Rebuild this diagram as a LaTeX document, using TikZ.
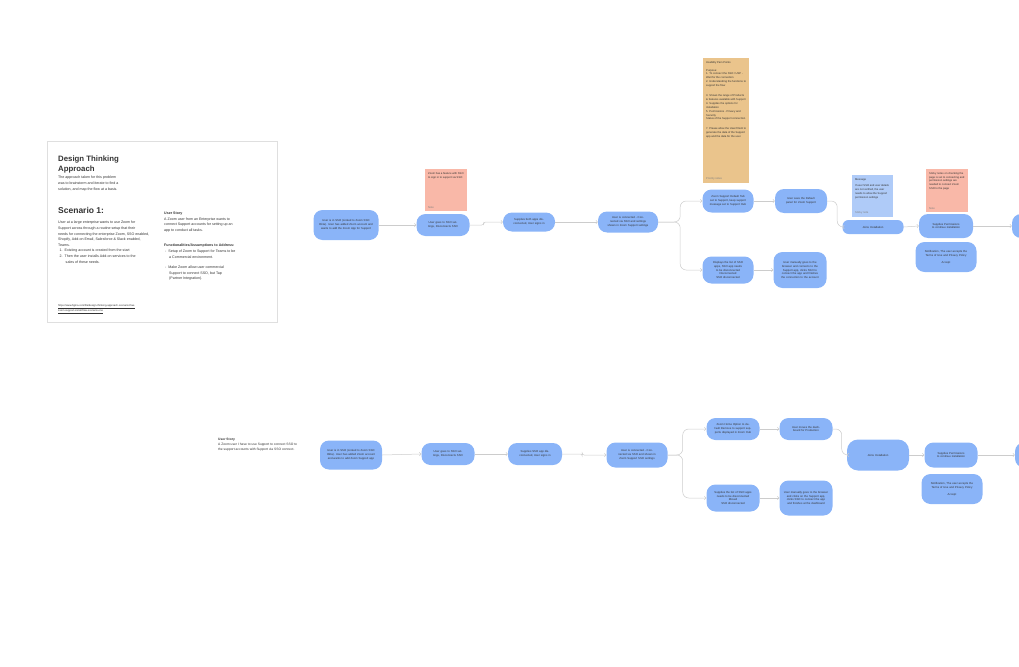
\documentclass[tikz,border=0pt]{standalone}
\usepackage{fontspec}
\setmainfont{Liberation Sans}
\usepackage{xcolor}
\usetikzlibrary{positioning,arrows.meta}
\definecolor{flowblue}{HTML}{8AB4F8}
\definecolor{salmon}{HTML}{F9B8A8}
\definecolor{sand}{HTML}{EAC48C}
\definecolor{skyblue}{HTML}{AFCBF8}
\definecolor{linegray}{HTML}{CCCCCC}
\definecolor{inkgray}{HTML}{333333}
\newcommand{\flowfont}{\fontsize{2.8}{3.9}\selectfont}
\newcommand{\notefont}{\fontsize{2.7}{3.9}\selectfont}
\newcommand{\cardfont}{\fontsize{3.6}{5.6}\selectfont}

\begin{document}
\begin{tikzpicture}[
    x=1pt, y=-1pt,
    flowbox/.style={rounded corners=9pt, fill=flowblue, inner xsep=4pt, inner ysep=2pt, align=center, font=\flowfont, text=inkgray},
    sticky/.style={fill=#1, anchor=north west, inner sep=3pt, font=\notefont, text=inkgray},
    arrow/.style={-{Straight Barb[length=1.6pt,width=3.6pt]}, draw=linegray, line width=0.5pt},
    cardtext/.style={anchor=north west, inner sep=0pt, align=left, font=\cardfont, text=inkgray}
]
    \useasboundingbox (0,0) rectangle (1019,666);
    \clip (0,0) rectangle (1019,666);

    \node[draw=gray!25, line width=0.5pt, fill=white, anchor=north west, minimum width=230pt, minimum height=181pt] (card) at (47,141) {};
    \node[cardtext, font=\fontsize{7.8}{10}\selectfont\bfseries] (title) at (58,156) {Design Thinking\\Approach};
    \node[cardtext] (approach) at (58,176) {The approach taken for this problem\\was to brainstorm and iterate to find a\\solution, and map the flow at a basis.};
    \node[cardtext, font=\fontsize{8.5}{10}\selectfont\bfseries] (scenario) at (58,207) {Scenario 1:};
    \node[cardtext] (scenariotext) at (58,221) {User at a large enterprise wants to use Zoom for\\Support across through a routine setup that their\\needs for connecting the enterprise Zoom, SSO enabled,\\Shopify, Add-on Email, Salesforce \& Slack enabled,\\Teams.\\
        \hspace*{1.5pt}1.\hspace{2pt}Existing account is created from the start\\
        \hspace*{1.5pt}2.\hspace{2pt}Then the user installs Add-on services to the\\
        \hspace*{7.5pt}sales of these needs.};
    \node[cardtext] (story) at (164,212) {\textbf{User Story}\\A Zoom user from an Enterprise wants to\\connect Support accounts for setting up an\\app to conduct all tasks.};
    \node[cardtext] (assume) at (164,244) {\textbf{Functionalities/Assumptions to Address:}\\
        \hspace*{1pt}-\hspace{2pt}Setup of Zoom to Support for Teams to be\\
        \hspace*{5pt}a Commercial environment.\\[5pt]
        \hspace*{1pt}-\hspace{2pt}Make Zoom allow user commercial\\
        \hspace*{5pt}Support to connect SSO, but Tap\\
        \hspace*{5pt}(Partner Integration).};
    \node[cardtext, font=\fontsize{2.6}{4}\selectfont] (figlink) at (58,304) {\underline{https://www.figma.com/file/design-thinking-approach-scenario-flow-}\\\underline{zoom-support-install-flow-scenario-one}};

    \node[flowbox, text width=57pt, minimum height=30pt] (n1) at (346,225) {User is in SSO (Linked to Zoom SSO Okta). User has added Zoom account and wants to add the Zoom App for Support};
    \node[sticky=salmon] (note1) at (425,169) {\parbox[t][36pt][t]{36pt}{\raggedright Zoom has a feature with SSO to sign in to support via SSO\par\vfill{\color{gray}Note}}};
    \node[flowbox, text width=45pt, minimum height=22pt] (n2) at (443,225) {User goes to SSO settings, Disconnects SSO};
    \node[flowbox, text width=44pt, minimum height=19pt] (n3) at (529,222) {Supplies both apps disconnected, User signs in};
    \node[flowbox, text width=52pt, minimum height=21pt] (n4) at (628,222) {User is connected - Connected via SSO and settings shown in Zoom Support settings};
    \node[sticky=sand] (note2) at (703,58) {\parbox[t][119pt][t]{40pt}{\raggedright Usability Pain Points\\[4pt]Purpose:\\1. To connect the SSO / USP - Wait for the connection\\2. Understanding the functions to support the flow\\[6pt]3. Shows the range of Products \& features available with Support\\4. Supplies the options for installation\\5. Permissions - Privacy and Security\\Status of the Support connection\\[6pt]7. Please allow the User/Client to generate the data of the Support app and the data for the user.\par\vfill{\color{gray}Priority notes}}};
    \node[flowbox, text width=43pt, minimum height=23pt] (n5) at (728,201) {Zoom Support Default Tab set to Support, keep support message set to Support Hub};
    \node[flowbox, text width=44pt, minimum height=24pt] (n6) at (801,201) {User sees the Default panel for Zoom Support};
    \node[flowbox, text width=43pt, minimum height=27pt] (n7) at (728,270) {Displays the list of SSO apps, SSO app needs to be disconnected\\Disconnected\\SSO disconnected};
    \node[flowbox, text width=45pt, minimum height=36pt] (n8) at (800,270) {User manually goes to the browser and connects to the Support app, clicks SSO to connect the app and finishes the connection to the account};
    \node[sticky=skyblue] (note3) at (852,175) {\parbox[t][36pt][t]{35pt}{\raggedright Message\\[3pt]If user SSO and user details are not verified, the user needs to allow the Support permission settings\par\vfill{\color{gray}Sticky note}}};
    \node[flowbox, rounded corners=6pt, text width=53pt, minimum height=14pt] (n9) at (873,227) {Joins Installation};
    \node[sticky=salmon] (note4) at (926,169) {\parbox[t][37pt][t]{36pt}{\raggedright Sticky notes on checking the page is set to connecting and permission settings are needed to connect Zoom SSO to the page\par\vfill{\color{gray}Note}}};
    \node[flowbox, text width=46pt, minimum height=24pt] (n10) at (946,226) {Supplies Permissions to continue installation};
    \node[flowbox, text width=53pt, minimum height=30pt] (n11) at (946,257) {Notification, The user accepts the Terms of Use and Privacy Policy\\[3pt]Accept};
    \node[flowbox, text width=52pt, minimum height=24pt] (n12) at (1042,226) {};

    \draw[arrow] (n1.east) -- (n2.west);
    \draw[arrow, rounded corners=2pt] (n2.east) -- ++(14,0) |- (n3.west);
    \draw[arrow] (n3.east) -- (n4.west);
    \draw[arrow, rounded corners=6pt] (n4.east) -- ++(22,0) |- (n5.west);
    \draw[arrow, rounded corners=6pt] (n4.east) -- ++(22,0) |- (n7.west);
    \draw[arrow] (n5.east) -- (n6.west);
    \draw[arrow] (n7.east) -- (n8.west);
    \draw[arrow, rounded corners=6pt] (n6.east) -- ++(10,0) |- (n9.west);
    \draw[arrow] (n9.east) -- (n10.west);
    \draw[arrow] (n10.east) -- (n12.west);

    \node[cardtext, font=\fontsize{3.3}{5}\selectfont] (story2) at (218,438) {\textbf{User Story}\\A Zoom user I have to use Support to connect SSO to\\the support accounts with Support via SSO connect.};

    \node[flowbox, text width=54pt, minimum height=29pt] (m1) at (351,455) {User is in SSO (Linked to Zoom SSO Okta). User has added Zoom account and wants to add Zoom Support app};
    \node[flowbox, text width=45pt, minimum height=22pt] (m2) at (448,454) {User goes to SSO settings, Disconnects SSO};
    \node[flowbox, text width=46pt, minimum height=22pt] (m3) at (535,454) {Supplies SSO app disconnected, User signs in};
    \node[flowbox, text width=53pt, minimum height=25pt] (m4) at (637,455) {User is connected - Connected via SSO and shown in Zoom Support SSO settings};
    \node[flowbox, text width=45pt, minimum height=22pt] (m5) at (733,429) {Zoom Home Option to default Remove to support supports displayed in Zoom Hub};
    \node[flowbox, text width=45pt, minimum height=22pt] (m6) at (806,429) {User moves the dashboard for Production};
    \node[flowbox, text width=45pt, minimum height=27pt] (m7) at (733,498) {Supplies the list of SSO apps needs to be disconnected\\Moved\\SSO disconnected};
    \node[flowbox, text width=45pt, minimum height=35pt] (m8) at (806,498) {User manually goes to the browser and clicks on the Support app, clicks SSO to connect the app and finishes at the dashboard};
    \node[flowbox, rounded corners=11pt, text width=54pt, minimum height=31pt] (m9) at (878,455) {Joins Installation};
    \node[flowbox, text width=45pt, minimum height=25pt] (m10) at (951,455) {Supplies Permissions to continue installation};
    \node[flowbox, text width=53pt, minimum height=30pt] (m11) at (952,489) {Notification, The user accepts the Terms of Use and Privacy Policy\\[3pt]Accept};
    \node[flowbox, text width=52pt, minimum height=25pt] (m12) at (1045,455) {};

    \draw[arrow] (m1.east) -- (m2.west);
    \draw[arrow] (m2.east) -- (m3.west);
    \draw[arrow, rounded corners=2pt] (m3.east) -- ++(20,0) |- (m4.west);
    \draw[arrow, rounded corners=6pt] (m4.east) -- ++(15,0) |- (m5.west);
    \draw[arrow, rounded corners=6pt] (m4.east) -- ++(15,0) |- (m7.west);
    \draw[arrow] (m5.east) -- (m6.west);
    \draw[arrow] (m7.east) -- (m8.west);
    \draw[arrow, rounded corners=6pt] (m6.east) -- ++(9,0) |- (m9.west);
    \draw[arrow] (m9.east) -- (m10.west);
    \draw[arrow] (m10.east) -- (m12.west);
\end{tikzpicture}
\end{document}
